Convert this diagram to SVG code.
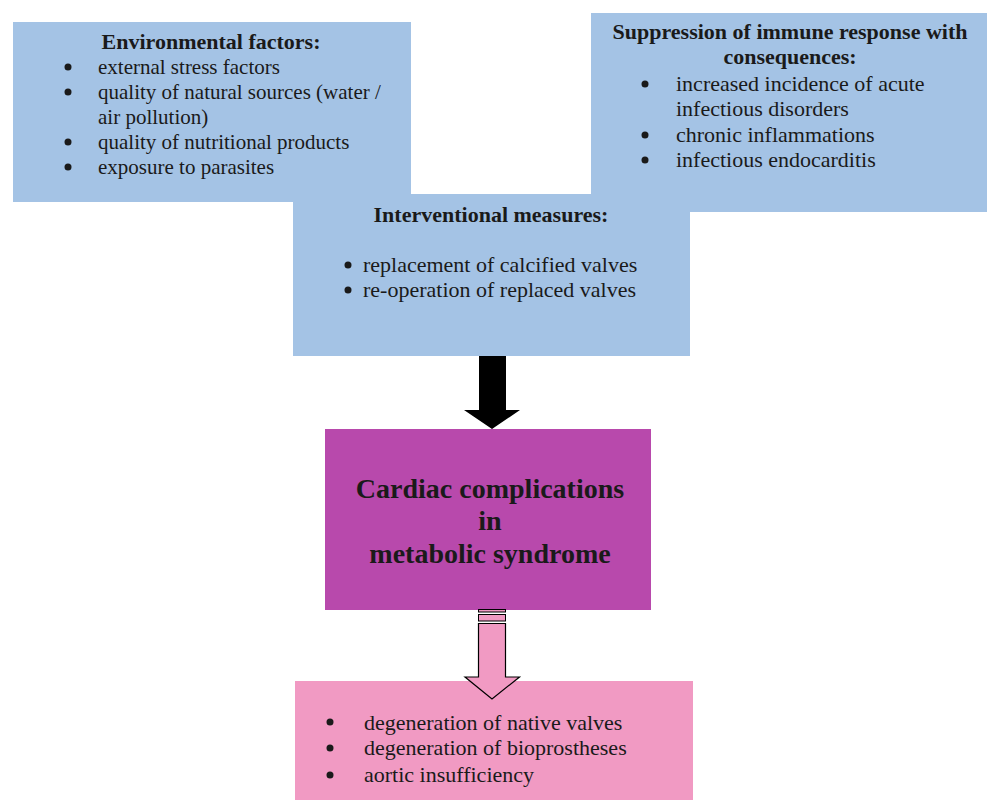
<svg xmlns="http://www.w3.org/2000/svg" width="987" height="800" viewBox="0 0 987 800">
<style>
.blue{fill:#A4C3E5}
.t{font-family:"Liberation Serif","Times New Roman",serif;font-size:22px;fill:#1a1a1a}
.e{font-size:21px}
.h{font-family:"Liberation Serif","Times New Roman",serif;font-size:22px;font-weight:bold;fill:#1a1a1a;text-anchor:middle}
.big{font-family:"Liberation Serif","Times New Roman",serif;font-size:28px;font-weight:bold;fill:#1a1a1a;text-anchor:middle}
.b{fill:#1a1a1a}
</style>
<rect width="987" height="800" fill="#fff"/>
<g id="env">
<rect class="blue" x="13" y="22" width="398" height="180"/>
</g>
<g id="immune">
<rect class="blue" x="591" y="13" width="396" height="199"/>
</g>
<g id="interv">
<rect class="blue" x="293" y="194" width="397" height="162"/>
</g>
<g id="envtext">
<text class="h" x="211" y="49">Environmental factors:</text>
<circle class="b" cx="68" cy="67" r="3.5"/><text class="t e" x="98" y="74">external stress factors</text>
<circle class="b" cx="68" cy="92" r="3.5"/><text class="t e" x="98" y="99">quality of natural sources (water /</text>
<text class="t e" x="98" y="124">air pollution)</text>
<circle class="b" cx="68" cy="142" r="3.5"/><text class="t e" x="98" y="149">quality of nutritional products</text>
<circle class="b" cx="68" cy="167" r="3.5"/><text class="t e" x="98" y="174">exposure to parasites</text>
</g>
<g id="immunetext">
<text class="h" x="790" y="39">Suppression of immune response with</text>
<text class="h" x="790" y="64">consequences:</text>
<circle class="b" cx="645" cy="84" r="3.5"/><text class="t" x="676" y="91">increased incidence of acute</text>
<text class="t" x="676" y="116">infectious disorders</text>
<circle class="b" cx="645" cy="135" r="3.5"/><text class="t" x="676" y="142">chronic inflammations</text>
<circle class="b" cx="645" cy="160" r="3.5"/><text class="t" x="676" y="167">infectious endocarditis</text>
</g>
<g id="intervtext">
<text class="h" x="491" y="222">Interventional measures:</text>
<circle class="b" cx="348" cy="265" r="3.5"/><text class="t" x="363" y="272">replacement of calcified valves</text>
<circle class="b" cx="348" cy="290" r="3.5"/><text class="t" x="363" y="297">re-operation of replaced valves</text>
</g>
<g id="cardiac">
<rect x="325" y="429" width="326" height="181" fill="#B849AC"/>
<text class="big" x="490" y="498">Cardiac complications</text>
<text class="big" x="490" y="530">in</text>
<text class="big" x="490" y="563">metabolic syndrome</text>
</g>
<g id="outcomes">
<rect x="295" y="681" width="398" height="119" fill="#F19AC3"/>
<circle class="b" cx="330" cy="722" r="3.5"/><text class="t" x="364" y="730">degeneration of native valves</text>
<circle class="b" cx="330" cy="748" r="3.5"/><text class="t" x="364" y="755">degeneration of bioprostheses</text>
<circle class="b" cx="330" cy="775" r="3.5"/><text class="t" x="364" y="782">aortic insufficiency</text>
</g>
<g id="connectors">
<polygon points="479,356 506,356 506,410 520,410 492,429 464,410 479,410" fill="#000"/>
<rect x="478.5" y="609.5" width="27" height="2.5" fill="#F19AC3" stroke="#000" stroke-width="1"/>
<rect x="478.5" y="614.5" width="27" height="6.5" fill="#F19AC3" stroke="#000" stroke-width="1"/>
<polygon points="478.5,623.5 505.5,623.5 505.5,677 519.5,677 492,699 465,677 478.5,677" fill="#F19AC3" stroke="#000" stroke-width="1.2"/>
</g>
</svg>
